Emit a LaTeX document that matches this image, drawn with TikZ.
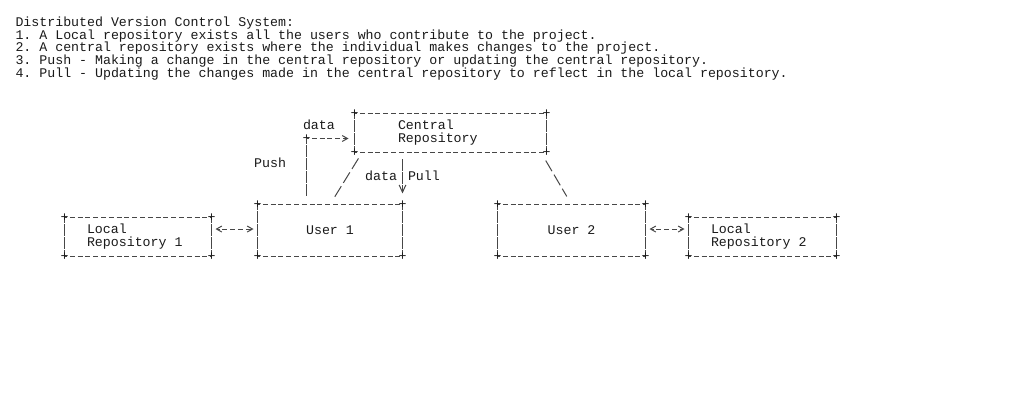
\documentclass[tikz,border=0pt]{standalone}
\usepackage{fontspec}
\setmonofont{Liberation Mono}
\usepackage{tikz}
\usetikzlibrary{arrows.meta,calc,positioning}
\definecolor{ink}{HTML}{1A1A1A}
\definecolor{rule}{HTML}{474747}

\begin{document}
\begin{tikzpicture}[x=0.75pt,y=-0.75pt,>={Straight Barb[length=4pt,width=4.5pt]},
		line width=0.75pt,color=rule,
		every node/.style={font=\ttfamily\fontsize{9.95pt}{9.75pt}\selectfont,text=ink,inner sep=0pt}]
		\tikzstyle{headline}=[anchor=base west]
		\tikzstyle{tag}=[text height=8pt,text depth=2pt]
		\tikzstyle{repo}=[align=left,minimum height=28.5pt,execute at begin node={\spaceskip=0pt\relax}]
		\tikzstyle{user}=[minimum width=108pt,minimum height=38.25pt]
		\tikzstyle{hdash}=[dash pattern=on 3.75pt off 2.1pt,dash phase=1.85pt]
		\tikzstyle{vdash}=[dash pattern=on 8.6pt off 1.15pt]
		\tikzstyle{slash}=[dash pattern=on 9.25pt off 3pt]
		\useasboundingbox[fill=white] (0,0) rectangle (1010,409);
		% text above the picture
		\node[headline] (title) at (15,26.7) {Distributed Version Control System:};
		\node[headline] (item1) at (15,39.35) {1. A Local repository exists all the users who contribute to the project.};
		\node[headline] (item2) at (15,52) {2. A central repository exists where the individual makes changes to the project.};
		\node[headline] (item3) at (15,64.65) {3. Push - Making a change in the central repository or updating the central repository.};
		\node[headline] (item4) at (15,77.3) {4. Pull - Updating the changes made in the central repository to reflect in the local repository.};
		% boxes
		\node[repo,text width=78.75pt,inner xsep=32.25pt] (central) at (450.5,133) {Central\\Repository};
		\node[user]                          (user1) at (330,230.5) {User 1};
		\node[user,minimum width=110.25pt]   (user2) at (571.5,230.5) {User 2};
		\node[repo,text width=76.5pt,inner xsep=16.5pt]  (local1) at (138,237) {Local\\Repository 1};
		\node[repo,text width=77.25pt,inner xsep=16.5pt] (local2) at (762.5,237) {Local\\Repository 2};
		\foreach \b in {central,user1,user2,local1,local2} {
			\draw[hdash] (\b.north west) -- (\b.north east) (\b.south west) -- (\b.south east);
			\draw[vdash,dash phase=4.5pt] (\b.north west) -- (\b.south west) (\b.north east) -- (\b.south east);
			\foreach \c/\k in {north west/nw,north east/ne,south west/sw,south east/se}
				\node (\b-\k) at (\b.\c) {+};
		}
		% push
		\coordinate (pushturn) at ($(user1.north west)+(49,-66)$);
		\node (pushcorner) at (pushturn) {+};
		\draw[vdash,dash phase=4.5pt,shorten >=6pt] (pushturn) -- (user1.north west -| pushturn);
		\draw[hdash,->,shorten >=4.5pt] (pushturn) -- (pushturn -| central.west);
		\node[tag,anchor=west] (pushdata) at ($(pushturn)+(-4,-13)$) {data};
		\node[tag,anchor=east] (push) at ($(pushturn)+(-20,25)$) {Push};
		\draw[slash,shorten <=5.25pt,shorten >=6.2pt] ($(central.south west)+(7.6,0)$) -- (user1.north);
		% pull
		\coordinate (pullmid) at ($(user1.north east)+(0,-28)$);
		\draw[vdash,-{Straight Barb[length=5.5pt,width=5pt]},shorten <=5.25pt,shorten >=8.25pt]
			(central.south -| user1.north east) -- (user1.north east);
		\node[tag,left=3.75pt of pullmid] (pulldata) {data};
		\node[tag,right=3.75pt of pullmid] (pull) {Pull};
		\draw[slash,shorten <=7pt,shorten >=7pt] ($(central.south east)+(-5.5,0)$) -- (user2.north);
		% local links
		\draw[hdash,<->,shorten <=3pt,shorten >=3pt] ([yshift=1.1pt]local1.east |- user1.west) -- ([yshift=1.1pt]user1.west);
		\draw[hdash,<->,shorten <=3pt,shorten >=3pt] ([yshift=1.1pt]user2.east) -- ([yshift=1.1pt]local2.west |- user2.east);
\end{tikzpicture}
\end{document}
